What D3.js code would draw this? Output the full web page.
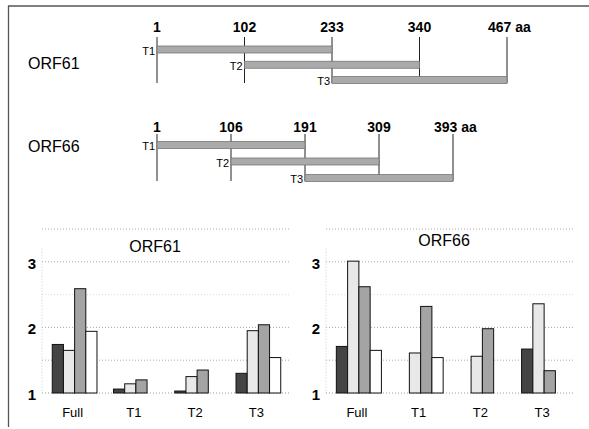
<!DOCTYPE html>
<html>
<head>
<meta charset="utf-8">
<script src="https://cdn.jsdelivr.net/npm/d3@7"></script>
<style>
  body { margin: 0; background: #fff; }
  svg { display: block; font-family: "Liberation Sans", Arial, sans-serif; }
</style>
</head>
<body>
<script>
// fragment map data
var fragments = ["T1", "T2", "T3"];
var orf61Ticks = ["1", "102", "233", "340", "467"];
var orf66Ticks = ["1", "106", "191", "309", "393"];
var orf61Spans = [["1", "233"], ["102", "340"], ["233", "467"]];
var orf66Spans = [["1", "191"], ["106", "309"], ["191", "393"]];

// bar chart data
var groups = ["Full", "T1", "T2", "T3"];
var seriesNames = ["dark", "light", "gray", "white"];
var orf61Dark  = [1.74, 1.06, 1.03, 1.30];
var orf61Light = [1.65, 1.14, 1.25, 1.95];
var orf61Gray  = [2.59, 1.20, 1.35, 2.04];
var orf61White = [1.94, 1.00, 1.00, 1.54];
var orf66Dark  = [1.71, null, null, 1.67];
var orf66Light = [3.01, 1.61, 1.56, 2.36];
var orf66Gray  = [2.62, 2.32, 1.98, 1.34];
var orf66White = [1.65, 1.54, 1.00, 1.00];
var yTicks = [1, 2, 3];
var gridValues = [1.5, 2, 2.5, 3, 3.5];

window.onload = function(){
    var w = 589, h = 429;
    var svg = d3.select("body").append("svg")
        .attr("width", w)
        .attr("height", h);

    //frame lines top and left
    svg.append("line").attr("x1", 8).attr("x2", w).attr("y1", 6).attr("y2", 6)
        .style("stroke", "#555").style("stroke-width", 1.3);
    svg.append("line").attr("x1", 8.5).attr("x2", 8.5).attr("y1", 6).attr("y2", 427)
        .style("stroke", "#555").style("stroke-width", 1.3);

    //fragment maps
    function drawMap(name, ticks, spans, cfg){
        var g = svg.append("g");
        var x = d3.scalePoint().domain(ticks).range(cfg.xRange);
        var y = d3.scalePoint().domain(fragments).range(cfg.yRange);

        g.append("text").attr("x", 28).attr("y", cfg.nameY)
            .style("font-size", "16px").text(name);

        g.selectAll(".tickline").data(ticks).enter().append("line")
            .attr("x1", function(d){ return x(d); })
            .attr("x2", function(d){ return x(d); })
            .attr("y1", cfg.tickTop).attr("y2", cfg.tickBottom)
            .style("stroke", "#222").style("stroke-width", 1);

        g.selectAll(".ticklabel").data(ticks).enter().append("text")
            .attr("x", function(d, i){ return i == ticks.length - 1 ? x(d) - 19 : x(d); })
            .attr("y", cfg.labelY)
            .attr("text-anchor", function(d, i){ return i == ticks.length - 1 ? "start" : "middle"; })
            .style("font-size", "14px").style("font-weight", "bold")
            .text(function(d, i){ return i == ticks.length - 1 ? d + " aa" : d; });

        g.selectAll(".frag").data(spans).enter().append("rect")
            .attr("x", function(d){ return x(d[0]); })
            .attr("y", function(d, i){ return y(fragments[i]) - 3.5; })
            .attr("width", function(d){ return x(d[1]) - x(d[0]); })
            .attr("height", 7)
            .style("fill", "#aaa").style("stroke", "#777").style("stroke-width", 0.8);

        g.selectAll(".fraglabel").data(fragments).enter().append("text")
            .attr("x", function(d, i){ return x(spans[i][0]) - 2; })
            .attr("y", function(d){ return y(d) + 5; })
            .attr("text-anchor", "end")
            .style("font-size", "11px")
            .text(function(d){ return d; });
    }

    drawMap("ORF61", orf61Ticks, orf61Spans,
        {xRange: [157, 507], yRange: [49.5, 80], nameY: 69, labelY: 32, tickTop: 37, tickBottom: 83});
    drawMap("ORF66", orf66Ticks, orf66Spans,
        {xRange: [157, 453], yRange: [145, 178], nameY: 152, labelY: 132, tickTop: 134, tickBottom: 181});

    //bar charts
    var fills = {dark: "#444", light: "#e8e8e8", gray: "#a4a4a4", white: "#fff"};
    var y = d3.scaleLinear().domain([1, 3.5]).range([393, 229]);

    function drawBars(title, cols, cfg){
        var g = svg.append("g");
        var x0 = d3.scaleBand().domain(groups).range(cfg.xRange)
            .paddingInner(0.27).paddingOuter(0.135);
        var x1 = d3.scaleBand().domain(seriesNames).range([0, x0.bandwidth()]);

        //gridlines
        g.selectAll(".grid").data(gridValues).enter().append("line")
            .attr("x1", cfg.xRange[0] - 2).attr("x2", cfg.xRange[1])
            .attr("y1", function(d){ return y(d); })
            .attr("y2", function(d){ return y(d); })
            .style("stroke", function(d){ return d == 2.5 ? "#ddd" : "#aaa"; })
            .style("stroke-dasharray", "1,2");
        g.append("line")
            .attr("x1", cfg.xRange[0] - 2).attr("x2", cfg.xRange[0] - 2)
            .attr("y1", y(3.2)).attr("y2", y(1))
            .style("stroke", "#ccc").style("stroke-dasharray", "1,2");
        g.append("line")
            .attr("x1", cfg.xRange[0] - 2).attr("x2", cfg.xRange[1])
            .attr("y1", y(1)).attr("y2", y(1))
            .style("stroke", "#999").style("stroke-dasharray", "1,2");

        g.append("text").attr("x", cfg.titleX).attr("y", cfg.titleY)
            .attr("text-anchor", "middle").style("font-size", "16px").text(title);

        g.selectAll(".ylab").data(yTicks).enter().append("text")
            .attr("x", cfg.xRange[0] - 8)
            .attr("y", function(d){ return y(d) + 7; })
            .attr("text-anchor", "end")
            .style("font-size", "15px").style("font-weight", "bold")
            .text(function(d){ return d; });

        g.selectAll(".xlab").data(groups).enter().append("text")
            .attr("x", function(d){ return x0(d) + x0.bandwidth() / 2 - 2; })
            .attr("y", 417)
            .attr("text-anchor", "middle")
            .style("font-size", "13px")
            .text(function(d){ return d; });

        seriesNames.forEach(function(s, si){
            var vals = cols[si];
            g.selectAll(".bar-" + s).data(groups).enter()
                .filter(function(d, i){ return vals[i] != null; })
                .append("rect")
                .attr("x", function(d){ return x0(d) + x1(s); })
                .attr("y", function(d){ return y(vals[groups.indexOf(d)]); })
                .attr("width", x1.bandwidth())
                .attr("height", function(d){ return y(1) - y(vals[groups.indexOf(d)]); })
                .style("fill", fills[s])
                .style("stroke", "#111").style("stroke-width", 1);
        });
    }

    drawBars("ORF61", [orf61Dark, orf61Light, orf61Gray, orf61White],
        {xRange: [44, 289], titleX: 155, titleY: 252});
    drawBars("ORF66", [orf66Dark, orf66Light, orf66Gray, orf66White],
        {xRange: [328, 575], titleX: 444, titleY: 246});
};
</script>
</body>
</html>
